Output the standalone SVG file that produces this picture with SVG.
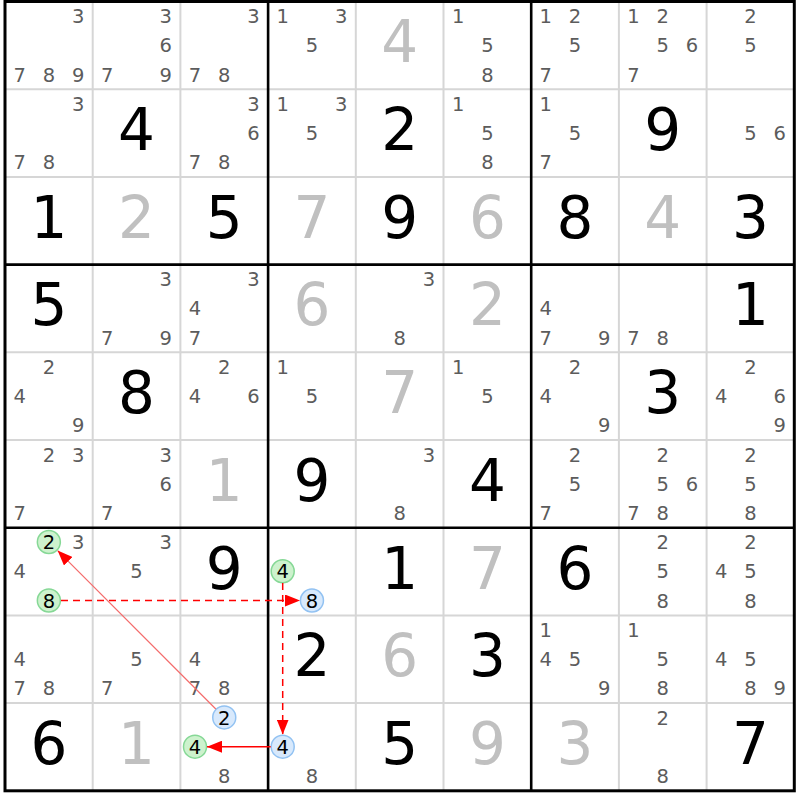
<svg xmlns="http://www.w3.org/2000/svg" width="800" height="800" viewBox="0 0 800 800">
<defs>
<style>
.c{font-family:"DejaVu Sans",sans-serif;font-size:19.5px;fill:#5c5c5c;text-anchor:middle}
.k{font-family:"DejaVu Sans",sans-serif;font-size:19.5px;fill:#000;text-anchor:middle}
.b{font-family:"DejaVu Sans",sans-serif;font-size:58px;fill:#000;text-anchor:middle}
.s{font-family:"DejaVu Sans",sans-serif;font-size:58px;fill:#c0c0c0;text-anchor:middle}
.thin{stroke:#d6d6d6;stroke-width:2}
.thick{stroke:#000;stroke-width:2.6}
.gc{fill:#cdf2cd;stroke:#86d896;stroke-width:1.5}
.bc{fill:#d8e9fc;stroke:#92c2f2;stroke-width:1.5}
.ar{stroke:#ff0000;stroke-width:1.5;fill:none}
.dash{stroke-dasharray:7 5}
.lt{stroke:#f46a6a;stroke-width:1.2;fill:none}
</style>
<marker id="ah" markerUnits="userSpaceOnUse" markerWidth="15" markerHeight="12" refX="15" refY="6" orient="auto">
<path d="M0,0 L15,6 L0,12 z" fill="#ff0000"/>
</marker>
</defs>
<rect width="800" height="800" fill="#fff"/>
<g id="grid">
<path class="thin" d="M92.7 1.5V790.8M180.4 1.5V790.8M355.8 1.5V790.8M443.5 1.5V790.8M618.9 1.5V790.8M706.6 1.5V790.8M5 89.2H794.3M5 176.9H794.3M5 352.3H794.3M5 440H794.3M5 615.4H794.3M5 703.1H794.3"/>
<path class="thick" d="M268.1 1.5V790.8M531.2 1.5V790.8M5 264.6H794.3M5 527.7H794.3"/>
<rect x="5" y="1.5" width="789.3" height="789.3" fill="none" stroke="#000" stroke-width="3"/>
</g>
<g id="cells">
<g id="r1c1" transform="translate(5,1.5)"><text class="c" x="73.1" y="21.5">3</text><text class="c" x="14.6" y="80">7</text><text class="c" x="43.85" y="80">8</text><text class="c" x="73.1" y="80">9</text></g>
<g id="r1c2" transform="translate(92.7,1.5)"><text class="c" x="73.1" y="21.5">3</text><text class="c" x="73.1" y="50.75">6</text><text class="c" x="14.6" y="80">7</text><text class="c" x="73.1" y="80">9</text></g>
<g id="r1c3" transform="translate(180.4,1.5)"><text class="c" x="73.1" y="21.5">3</text><text class="c" x="14.6" y="80">7</text><text class="c" x="43.85" y="80">8</text></g>
<g id="r1c4" transform="translate(268.1,1.5)"><text class="c" x="14.6" y="21.5">1</text><text class="c" x="73.1" y="21.5">3</text><text class="c" x="43.85" y="50.75">5</text></g>
<g id="r1c5" transform="translate(355.8,1.5)"><text class="s" x="43.85" y="60.85">4</text></g>
<g id="r1c6" transform="translate(443.5,1.5)"><text class="c" x="14.6" y="21.5">1</text><text class="c" x="43.85" y="50.75">5</text><text class="c" x="43.85" y="80">8</text></g>
<g id="r1c7" transform="translate(531.2,1.5)"><text class="c" x="14.6" y="21.5">1</text><text class="c" x="43.85" y="21.5">2</text><text class="c" x="43.85" y="50.75">5</text><text class="c" x="14.6" y="80">7</text></g>
<g id="r1c8" transform="translate(618.9,1.5)"><text class="c" x="14.6" y="21.5">1</text><text class="c" x="43.85" y="21.5">2</text><text class="c" x="43.85" y="50.75">5</text><text class="c" x="73.1" y="50.75">6</text><text class="c" x="14.6" y="80">7</text></g>
<g id="r1c9" transform="translate(706.6,1.5)"><text class="c" x="43.85" y="21.5">2</text><text class="c" x="43.85" y="50.75">5</text></g>

<g id="r2c1" transform="translate(5,89.2)"><text class="c" x="73.1" y="21.5">3</text><text class="c" x="14.6" y="80">7</text><text class="c" x="43.85" y="80">8</text></g>
<g id="r2c2" transform="translate(92.7,89.2)"><text class="b" x="43.85" y="60.85">4</text></g>
<g id="r2c3" transform="translate(180.4,89.2)"><text class="c" x="73.1" y="21.5">3</text><text class="c" x="73.1" y="50.75">6</text><text class="c" x="14.6" y="80">7</text><text class="c" x="43.85" y="80">8</text></g>
<g id="r2c4" transform="translate(268.1,89.2)"><text class="c" x="14.6" y="21.5">1</text><text class="c" x="73.1" y="21.5">3</text><text class="c" x="43.85" y="50.75">5</text></g>
<g id="r2c5" transform="translate(355.8,89.2)"><text class="b" x="43.85" y="60.85">2</text></g>
<g id="r2c6" transform="translate(443.5,89.2)"><text class="c" x="14.6" y="21.5">1</text><text class="c" x="43.85" y="50.75">5</text><text class="c" x="43.85" y="80">8</text></g>
<g id="r2c7" transform="translate(531.2,89.2)"><text class="c" x="14.6" y="21.5">1</text><text class="c" x="43.85" y="50.75">5</text><text class="c" x="14.6" y="80">7</text></g>
<g id="r2c8" transform="translate(618.9,89.2)"><text class="b" x="43.85" y="60.85">9</text></g>
<g id="r2c9" transform="translate(706.6,89.2)"><text class="c" x="43.85" y="50.75">5</text><text class="c" x="73.1" y="50.75">6</text></g>

<g id="r3c1" transform="translate(5,176.9)"><text class="b" x="43.85" y="60.85">1</text></g>
<g id="r3c2" transform="translate(92.7,176.9)"><text class="s" x="43.85" y="60.85">2</text></g>
<g id="r3c3" transform="translate(180.4,176.9)"><text class="b" x="43.85" y="60.85">5</text></g>
<g id="r3c4" transform="translate(268.1,176.9)"><text class="s" x="43.85" y="60.85">7</text></g>
<g id="r3c5" transform="translate(355.8,176.9)"><text class="b" x="43.85" y="60.85">9</text></g>
<g id="r3c6" transform="translate(443.5,176.9)"><text class="s" x="43.85" y="60.85">6</text></g>
<g id="r3c7" transform="translate(531.2,176.9)"><text class="b" x="43.85" y="60.85">8</text></g>
<g id="r3c8" transform="translate(618.9,176.9)"><text class="s" x="43.85" y="60.85">4</text></g>
<g id="r3c9" transform="translate(706.6,176.9)"><text class="b" x="43.85" y="60.85">3</text></g>

<g id="r4c1" transform="translate(5,264.6)"><text class="b" x="43.85" y="60.85">5</text></g>
<g id="r4c2" transform="translate(92.7,264.6)"><text class="c" x="73.1" y="21.5">3</text><text class="c" x="14.6" y="80">7</text><text class="c" x="73.1" y="80">9</text></g>
<g id="r4c3" transform="translate(180.4,264.6)"><text class="c" x="73.1" y="21.5">3</text><text class="c" x="14.6" y="50.75">4</text><text class="c" x="14.6" y="80">7</text></g>
<g id="r4c4" transform="translate(268.1,264.6)"><text class="s" x="43.85" y="60.85">6</text></g>
<g id="r4c5" transform="translate(355.8,264.6)"><text class="c" x="73.1" y="21.5">3</text><text class="c" x="43.85" y="80">8</text></g>
<g id="r4c6" transform="translate(443.5,264.6)"><text class="s" x="43.85" y="60.85">2</text></g>
<g id="r4c7" transform="translate(531.2,264.6)"><text class="c" x="14.6" y="50.75">4</text><text class="c" x="14.6" y="80">7</text><text class="c" x="73.1" y="80">9</text></g>
<g id="r4c8" transform="translate(618.9,264.6)"><text class="c" x="14.6" y="80">7</text><text class="c" x="43.85" y="80">8</text></g>
<g id="r4c9" transform="translate(706.6,264.6)"><text class="b" x="43.85" y="60.85">1</text></g>

<g id="r5c1" transform="translate(5,352.3)"><text class="c" x="43.85" y="21.5">2</text><text class="c" x="14.6" y="50.75">4</text><text class="c" x="73.1" y="80">9</text></g>
<g id="r5c2" transform="translate(92.7,352.3)"><text class="b" x="43.85" y="60.85">8</text></g>
<g id="r5c3" transform="translate(180.4,352.3)"><text class="c" x="43.85" y="21.5">2</text><text class="c" x="14.6" y="50.75">4</text><text class="c" x="73.1" y="50.75">6</text></g>
<g id="r5c4" transform="translate(268.1,352.3)"><text class="c" x="14.6" y="21.5">1</text><text class="c" x="43.85" y="50.75">5</text></g>
<g id="r5c5" transform="translate(355.8,352.3)"><text class="s" x="43.85" y="60.85">7</text></g>
<g id="r5c6" transform="translate(443.5,352.3)"><text class="c" x="14.6" y="21.5">1</text><text class="c" x="43.85" y="50.75">5</text></g>
<g id="r5c7" transform="translate(531.2,352.3)"><text class="c" x="43.85" y="21.5">2</text><text class="c" x="14.6" y="50.75">4</text><text class="c" x="73.1" y="80">9</text></g>
<g id="r5c8" transform="translate(618.9,352.3)"><text class="b" x="43.85" y="60.85">3</text></g>
<g id="r5c9" transform="translate(706.6,352.3)"><text class="c" x="43.85" y="21.5">2</text><text class="c" x="14.6" y="50.75">4</text><text class="c" x="73.1" y="50.75">6</text><text class="c" x="73.1" y="80">9</text></g>

<g id="r6c1" transform="translate(5,440)"><text class="c" x="43.85" y="21.5">2</text><text class="c" x="73.1" y="21.5">3</text><text class="c" x="14.6" y="80">7</text></g>
<g id="r6c2" transform="translate(92.7,440)"><text class="c" x="73.1" y="21.5">3</text><text class="c" x="73.1" y="50.75">6</text><text class="c" x="14.6" y="80">7</text></g>
<g id="r6c3" transform="translate(180.4,440)"><text class="s" x="43.85" y="60.85">1</text></g>
<g id="r6c4" transform="translate(268.1,440)"><text class="b" x="43.85" y="60.85">9</text></g>
<g id="r6c5" transform="translate(355.8,440)"><text class="c" x="73.1" y="21.5">3</text><text class="c" x="43.85" y="80">8</text></g>
<g id="r6c6" transform="translate(443.5,440)"><text class="b" x="43.85" y="60.85">4</text></g>
<g id="r6c7" transform="translate(531.2,440)"><text class="c" x="43.85" y="21.5">2</text><text class="c" x="43.85" y="50.75">5</text><text class="c" x="14.6" y="80">7</text></g>
<g id="r6c8" transform="translate(618.9,440)"><text class="c" x="43.85" y="21.5">2</text><text class="c" x="43.85" y="50.75">5</text><text class="c" x="73.1" y="50.75">6</text><text class="c" x="14.6" y="80">7</text><text class="c" x="43.85" y="80">8</text></g>
<g id="r6c9" transform="translate(706.6,440)"><text class="c" x="43.85" y="21.5">2</text><text class="c" x="43.85" y="50.75">5</text><text class="c" x="43.85" y="80">8</text></g>

<g id="r7c1" transform="translate(5,527.7)"><circle class="gc" cx="43.85" cy="14.3" r="11.5"/><text class="k" x="43.85" y="21.5">2</text><text class="c" x="73.1" y="21.5">3</text><text class="c" x="14.6" y="50.75">4</text><circle class="gc" cx="43.85" cy="72.8" r="11.5"/><text class="k" x="43.85" y="80">8</text></g>
<g id="r7c2" transform="translate(92.7,527.7)"><text class="c" x="73.1" y="21.5">3</text><text class="c" x="43.85" y="50.75">5</text></g>
<g id="r7c3" transform="translate(180.4,527.7)"><text class="b" x="43.85" y="60.85">9</text></g>
<g id="r7c4" transform="translate(268.1,527.7)"><circle class="gc" cx="14.6" cy="43.55" r="11.5"/><text class="k" x="14.6" y="50.75">4</text><circle class="bc" cx="43.85" cy="72.8" r="11.5"/><text class="k" x="43.85" y="80">8</text></g>
<g id="r7c5" transform="translate(355.8,527.7)"><text class="b" x="43.85" y="60.85">1</text></g>
<g id="r7c6" transform="translate(443.5,527.7)"><text class="s" x="43.85" y="60.85">7</text></g>
<g id="r7c7" transform="translate(531.2,527.7)"><text class="b" x="43.85" y="60.85">6</text></g>
<g id="r7c8" transform="translate(618.9,527.7)"><text class="c" x="43.85" y="21.5">2</text><text class="c" x="43.85" y="50.75">5</text><text class="c" x="43.85" y="80">8</text></g>
<g id="r7c9" transform="translate(706.6,527.7)"><text class="c" x="43.85" y="21.5">2</text><text class="c" x="14.6" y="50.75">4</text><text class="c" x="43.85" y="50.75">5</text><text class="c" x="43.85" y="80">8</text></g>

<g id="r8c1" transform="translate(5,615.4)"><text class="c" x="14.6" y="50.75">4</text><text class="c" x="14.6" y="80">7</text><text class="c" x="43.85" y="80">8</text></g>
<g id="r8c2" transform="translate(92.7,615.4)"><text class="c" x="43.85" y="50.75">5</text><text class="c" x="14.6" y="80">7</text></g>
<g id="r8c3" transform="translate(180.4,615.4)"><text class="c" x="14.6" y="50.75">4</text><text class="c" x="14.6" y="80">7</text><text class="c" x="43.85" y="80">8</text></g>
<g id="r8c4" transform="translate(268.1,615.4)"><text class="b" x="43.85" y="60.85">2</text></g>
<g id="r8c5" transform="translate(355.8,615.4)"><text class="s" x="43.85" y="60.85">6</text></g>
<g id="r8c6" transform="translate(443.5,615.4)"><text class="b" x="43.85" y="60.85">3</text></g>
<g id="r8c7" transform="translate(531.2,615.4)"><text class="c" x="14.6" y="21.5">1</text><text class="c" x="14.6" y="50.75">4</text><text class="c" x="43.85" y="50.75">5</text><text class="c" x="73.1" y="80">9</text></g>
<g id="r8c8" transform="translate(618.9,615.4)"><text class="c" x="14.6" y="21.5">1</text><text class="c" x="43.85" y="50.75">5</text><text class="c" x="43.85" y="80">8</text></g>
<g id="r8c9" transform="translate(706.6,615.4)"><text class="c" x="14.6" y="50.75">4</text><text class="c" x="43.85" y="50.75">5</text><text class="c" x="43.85" y="80">8</text><text class="c" x="73.1" y="80">9</text></g>

<g id="r9c1" transform="translate(5,703.1)"><text class="b" x="43.85" y="60.85">6</text></g>
<g id="r9c2" transform="translate(92.7,703.1)"><text class="s" x="43.85" y="60.85">1</text></g>
<g id="r9c3" transform="translate(180.4,703.1)"><circle class="bc" cx="43.85" cy="14.3" r="11.5"/><text class="k" x="43.85" y="21.5">2</text><circle class="gc" cx="14.6" cy="43.55" r="11.5"/><text class="k" x="14.6" y="50.75">4</text><text class="c" x="43.85" y="80">8</text></g>
<g id="r9c4" transform="translate(268.1,703.1)"><circle class="bc" cx="14.6" cy="43.55" r="11.5"/><text class="k" x="14.6" y="50.75">4</text><text class="c" x="43.85" y="80">8</text></g>
<g id="r9c5" transform="translate(355.8,703.1)"><text class="b" x="43.85" y="60.85">5</text></g>
<g id="r9c6" transform="translate(443.5,703.1)"><text class="s" x="43.85" y="60.85">9</text></g>
<g id="r9c7" transform="translate(531.2,703.1)"><text class="s" x="43.85" y="60.85">3</text></g>
<g id="r9c8" transform="translate(618.9,703.1)"><text class="c" x="43.85" y="21.5">2</text><text class="c" x="43.85" y="80">8</text></g>
<g id="r9c9" transform="translate(706.6,703.1)"><text class="b" x="43.85" y="60.85">7</text></g>
</g>
<g id="connectors">
<line class="ar dash" x1="61" y1="600.5" x2="300" y2="600.5" marker-end="url(#ah)"/>
<line class="ar dash" x1="282.7" y1="583" x2="282.7" y2="734.5" marker-end="url(#ah)"/>
<line class="ar" x1="270.7" y1="746.7" x2="207" y2="746.7" marker-end="url(#ah)"/>
<line class="lt" x1="215.8" y1="709" x2="57.6" y2="550.6" marker-end="url(#ah)"/>
</g>
</svg>
